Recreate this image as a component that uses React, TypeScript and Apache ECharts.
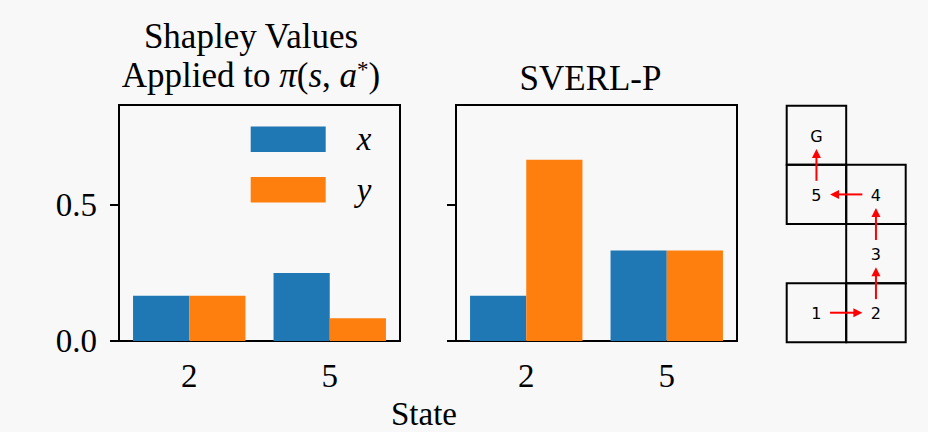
import React, { useEffect, useRef } from "react";
import * as echarts from "echarts";

// ---- data ----
const categories = ["2", "5"];
const shapleyX = [0.1667, 0.25];
const shapleyY = [0.1667, 0.0833];
const sverlX = [0.1667, 0.3333];
const sverlY = [0.6667, 0.3333];
const yTicks = [0, 0.5];
const yMax = 0.868;

// grid world layout
const cells = [
  { label: "G", col: 0, row: 0 },
  { label: "5", col: 0, row: 1 },
  { label: "4", col: 1, row: 1 },
  { label: "3", col: 1, row: 2 },
  { label: "1", col: 0, row: 3 },
  { label: "2", col: 1, row: 3 },
];
const policyPath = ["1", "2", "3", "4", "5", "G"];

const BG = "#f8f8f8";
const SERIF = '"Liberation Serif", "Times New Roman", serif';
const BLUE = "#1f77b4";
const ORANGE = "#ff7f0e";

export default function App() {
  const ref = useRef<HTMLDivElement>(null);

  useEffect(() => {
    if (!ref.current) return;
    const chart = echarts.init(ref.current, null, { renderer: "svg" });

    const cellByLabel: Record<string, { col: number; row: number }> = {};
    cells.forEach((c) => (cellByLabel[c.label] = c));
    const arrowData = [] as number[][];
    for (let i = 0; i < policyPath.length - 1; i++) {
      const a = cellByLabel[policyPath[i]];
      const b = cellByLabel[policyPath[i + 1]];
      arrowData.push([a.col + 0.5, a.row + 0.5, b.col + 0.5, b.row + 0.5]);
    }

    const axisLabelStyle = {
      fontFamily: SERIF,
      fontSize: 33,
      color: "#000",
    };
    const lineBlack = { color: "#000", width: 2 };

    const xAxisFor = (gridIndex: number) => ({
      type: "category",
      gridIndex,
      data: categories,
      axisLine: { lineStyle: lineBlack },
      axisTick: { alignWithLabel: true, length: 9, lineStyle: lineBlack },
      axisLabel: { ...axisLabelStyle, margin: 18 },
      splitLine: { show: false },
    });
    const yAxisFor = (gridIndex: number, showLabels: boolean) => ({
      type: "value",
      gridIndex,
      min: 0,
      max: yMax,
      interval: 0.5,
      axisLine: { show: true, lineStyle: lineBlack },
      axisTick: { show: true, length: 9, lineStyle: lineBlack, customValues: yTicks },
      axisLabel: {
        show: showLabels,
        ...axisLabelStyle,
        margin: 22,
        customValues: yTicks,
        formatter: (v: number) => v.toFixed(1),
      },
      splitLine: { show: false },
    });

    const gridBox = {
      show: true,
      borderColor: "#000",
      borderWidth: 2,
      backgroundColor: "transparent",
    };

    const barSeries = (name: string, data: number[], color: string, idx: number) => ({
      type: "bar",
      name,
      xAxisIndex: idx,
      yAxisIndex: idx,
      data,
      barGap: "0%",
      barCategoryGap: "20%",
      itemStyle: { color },
      emphasis: { disabled: true },
    });

    const TITLE_FONT = `35px ${SERIF}`;

    const option: any = {
      animation: false,
      backgroundColor: BG,
      grid: [
        { left: 119, top: 105, width: 281, height: 236, ...gridBox },
        { left: 456, top: 105, width: 281, height: 236, ...gridBox },
        { left: 786.7, top: 105.7, width: 119, height: 236.6, show: false },
      ],
      xAxis: [
        xAxisFor(0),
        xAxisFor(1),
        { type: "value", gridIndex: 2, min: 0, max: 2, show: false },
      ],
      yAxis: [
        yAxisFor(0, true),
        yAxisFor(1, false),
        { type: "value", gridIndex: 2, min: 0, max: 4, inverse: true, show: false },
      ],
      legend: {
        orient: "vertical",
        left: 250.7,
        top: 122.7,
        padding: 0,
        itemWidth: 75,
        itemHeight: 25.6,
        itemGap: 17.6,
        icon: "rect",
        selectedMode: false,
        data: ["x", "y"],
        textStyle: {
          fontFamily: SERIF,
          fontStyle: "italic",
          fontSize: 33,
          color: "#000",
          padding: [0, 0, 0, 26],
        },
      },
      series: [
        barSeries("x", shapleyX, BLUE, 0),
        barSeries("y", shapleyY, ORANGE, 0),
        barSeries("x", sverlX, BLUE, 1),
        barSeries("y", sverlY, ORANGE, 1),
        {
          type: "custom",
          name: "cells",
          xAxisIndex: 2,
          yAxisIndex: 2,
          clip: false,
          silent: true,
          data: cells.map((c) => [c.col, c.row]),
          renderItem: (params: any, api: any) => {
            const c = api.value(0);
            const r = api.value(1);
            const p0 = api.coord([c, r]);
            const p1 = api.coord([c + 1, r + 1]);
            const x = Math.min(p0[0], p1[0]);
            const y = Math.min(p0[1], p1[1]);
            const w = Math.abs(p1[0] - p0[0]);
            const h = Math.abs(p1[1] - p0[1]);
            return {
              type: "group",
              children: [
                {
                  type: "rect",
                  shape: { x, y, width: w, height: h },
                  style: { fill: "none", stroke: "#000", lineWidth: 2 },
                },
                {
                  type: "text",
                  x: x + w / 2,
                  y: y + h / 2 + 1,
                  style: {
                    text: cells[params.dataIndex].label,
                    font: '16px "DejaVu Sans"',
                    fill: "#000",
                    align: "center",
                    verticalAlign: "middle",
                  },
                },
              ],
            };
          },
        },
        {
          type: "custom",
          name: "arrows",
          xAxisIndex: 2,
          yAxisIndex: 2,
          clip: false,
          silent: true,
          z: 5,
          data: arrowData,
          renderItem: (_params: any, api: any) => {
            const a = api.coord([api.value(0), api.value(1)]);
            const b = api.coord([api.value(2), api.value(3)]);
            let dx = b[0] - a[0];
            let dy = b[1] - a[1];
            const len = Math.hypot(dx, dy);
            dx /= len;
            dy /= len;
            const nx = -dy;
            const ny = dx;
            const off = 13.6;
            const head = 9;
            const hw = 4.5;
            const s = [a[0] + dx * off, a[1] + dy * off];
            const tip = [b[0] - dx * off, b[1] - dy * off];
            const base = [tip[0] - dx * head, tip[1] - dy * head];
            return {
              type: "group",
              children: [
                {
                  type: "line",
                  shape: { x1: s[0], y1: s[1], x2: base[0] + dx, y2: base[1] + dy },
                  style: { stroke: "#ff0000", lineWidth: 2 },
                },
                {
                  type: "polygon",
                  shape: {
                    points: [
                      tip,
                      [base[0] + nx * hw, base[1] + ny * hw],
                      [base[0] - nx * hw, base[1] - ny * hw],
                    ],
                  },
                  style: { fill: "#ff0000" },
                },
              ],
            };
          },
        },
      ],
      graphic: [
        {
          type: "text",
          x: 251,
          y: 36,
          style: {
            text: "Shapley Values",
            font: TITLE_FONT,
            fill: "#000",
            align: "center",
            verticalAlign: "middle",
          },
        },
        {
          type: "text",
          x: 251,
          y: 75.5,
          style: {
            text: "Applied to {m|π}({m|s}, {m|a}{sup|*})",
            font: TITLE_FONT,
            fill: "#000",
            align: "center",
            verticalAlign: "middle",
            rich: {
              m: { fontFamily: SERIF, fontSize: 35, fontStyle: "italic", fill: "#000" },
              sup: { fontFamily: SERIF, fontSize: 23, fill: "#000", verticalAlign: "top", padding: [0, 0, 10, 0] },
            },
          },
        },
        {
          type: "text",
          x: 590.5,
          y: 78,
          style: {
            text: "SVERL-P",
            font: TITLE_FONT,
            fill: "#000",
            align: "center",
            verticalAlign: "middle",
          },
        },
        {
          type: "text",
          x: 424,
          y: 414,
          style: {
            text: "State",
            font: `33px ${SERIF}`,
            fill: "#000",
            align: "center",
            verticalAlign: "middle",
          },
        },
      ],
    };

    chart.setOption(option);
    return () => chart.dispose();
  }, []);

  return (
    <div
      style={{
        position: "fixed",
        left: 0,
        top: 0,
        width: 928,
        height: 432,
        background: BG,
      }}
    >
      <div ref={ref} style={{ width: 928, height: 432 }} />
    </div>
  );
}
